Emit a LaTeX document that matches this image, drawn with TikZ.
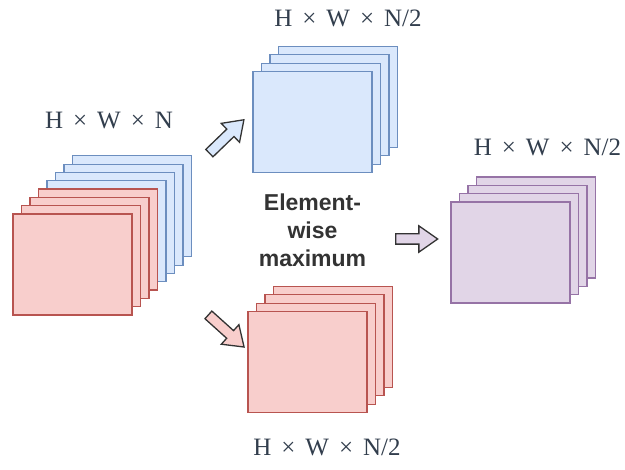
\documentclass[tikz,border=0pt]{standalone}
\usepackage{fontspec}
\setmainfont{Liberation Serif}
\setsansfont{Liberation Sans}
\usepackage{xcolor}
\usepackage{tikz}
\usetikzlibrary{shapes.arrows}
\definecolor{mpBlueFill}{HTML}{DAE8FC}
\definecolor{mpBlueLine}{HTML}{6C8EBF}
\definecolor{mpRedFill}{HTML}{F8CECC}
\definecolor{mpRedLine}{HTML}{B85450}
\definecolor{mpPurpleFill}{HTML}{E1D5E7}
\definecolor{mpPurpleLine}{HTML}{9673A6}
\definecolor{mpSlate}{RGB}{50, 62, 77}
\definecolor{mpDark}{HTML}{333333}
% wide "x" between tensor dimensions
\newcommand{\dimx}{\hspace{0.4em}×\hspace{0.4em}}
\tikzset{
    sheet/.style={
        rectangle,
        line width=1.2pt,
        minimum width=119pt,
        minimum height=101pt,
        inner sep=0pt
    },
    bluesheet/.style={sheet, draw=mpBlueLine, fill=mpBlueFill},
    redsheet/.style={sheet, draw=mpRedLine, fill=mpRedFill},
    purplesheet/.style={sheet, draw=mpPurpleLine, fill=mpPurpleFill},
    dims/.style={
        font=\fontsize{25}{30}\selectfont,
        text=mpSlate,
        anchor=base,
        inner sep=0pt
    },
    fatarrow/.style={
        single arrow,
        draw=mpDark,
        line width=1.3pt,
        minimum height=48pt,
        inner xsep=0pt,
        inner ysep=4.5pt,
        single arrow head extend=8pt,
        single arrow tip angle=70
    },
    opname/.style={
        font=\sffamily\bfseries\fontsize{23}{28}\selectfont,
        align=center,
        text=mpDark
    }
}

\begin{document}
\begin{tikzpicture}[x=1pt, y=-1pt]
  \useasboundingbox (0,0) rectangle (625,470);

  % Input feature maps: N channels, first half blue, second half red
  \foreach \k in {7,6,5,4}
    \node[bluesheet] (in-\k) at ({72.5+8.5*\k}, {264.5-8.3*\k}) {};
  \foreach \k in {3,2,1,0}
    \node[redsheet] (in-\k) at ({72.5+8.5*\k}, {264.5-8.3*\k}) {};
  \node[dims] (inlabel) at (109,129) {H\dimx W\dimx N};

  % The two halves
  \foreach \k in {3,2,1,0}
    \node[bluesheet] (upper-\k) at ({312.5+8.5*\k}, {122-8.3*\k}) {};
  \node[dims] (upperlabel) at (348,27) {H\dimx W\dimx N/2};

  \foreach \k in {3,2,1,0}
    \node[redsheet] (lower-\k) at ({307.5+8.5*\k}, {362-8.3*\k}) {};
  \node[dims] (lowerlabel) at (327,456) {H\dimx W\dimx N/2};

  \node[fatarrow, fill=mpBlueFill, rotate=44] (toupper) at (224,139) {};
  \node[fatarrow, fill=mpRedFill, rotate=-42] (tolower) at (223.5,328.5) {};

  % Max over the pair
  \node[opname] (maxop) at (312.5,230) {Element-\\wise\\maximum};
  \node[fatarrow, fill=mpPurpleFill, minimum height=42pt] (tomax) at (413,239) {};

  \foreach \k in {3,2,1,0}
    \node[purplesheet] (out-\k) at ({510.5+8.5*\k}, {252.5-8.3*\k}) {};
  \node[dims] (outlabel) at (547.5,156) {H\dimx W\dimx N/2};
\end{tikzpicture}
\end{document}
